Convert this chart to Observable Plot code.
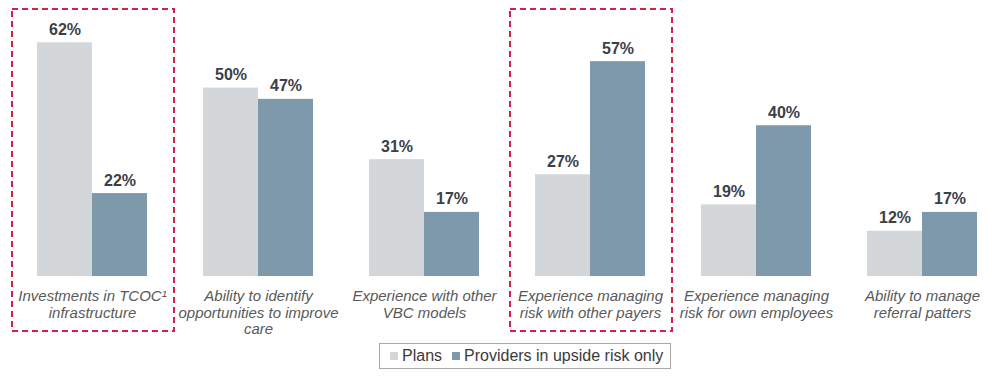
<!DOCTYPE html>
<html>
<head>
<meta charset="utf-8">
<script src="https://cdn.jsdelivr.net/npm/d3@7"></script>
<script src="https://cdn.jsdelivr.net/npm/@observablehq/plot@0.6"></script>
<style>
  body { margin: 0; background: #fff; font-family: "Liberation Sans", Arial, sans-serif; }
  #wrap { position: relative; width: 990px; height: 392px; overflow: hidden; }
  #chart { position: absolute; left: 0; top: 0; width: 990px; height: 340px; overflow: hidden; }
  #chart svg { max-width: none !important; }
  #legend { position: absolute; left: 379px; top: 343px; width: 290px; height: 24px; border: 1px solid #a9a9a9;
            display: flex; align-items: center; font-size: 16px; color: #3a3a3a; box-sizing: content-box; }
  .sw { display: inline-block; width: 8px; height: 8px; margin-right: 4px; }
</style>
</head>
<body>
<div id="wrap">
  <div id="chart"></div>
  <div id="legend"></div>
</div>
<script>
const categories = [
  "Investments in TCOC¹\ninfrastructure",
  "Ability to identify\nopportunities to improve\ncare",
  "Experience with other\nVBC models",
  "Experience managing\nrisk with other payers",
  "Experience managing\nrisk for own employees",
  "Ability to manage\nreferral patters"
];
const seriesNames = ["Plans", "Providers in upside risk only"];
const plans = [62, 50, 31, 27, 19, 12];
const providers = [22, 47, 17, 57, 40, 17];
const highlighted = ["Investments in TCOC¹\ninfrastructure", "Experience managing\nrisk with other payers"];
const colors = ["#d4d7d9", "#7e98ac"];

const rows = [];
categories.forEach((c, i) => {
  rows.push({cat: c, series: seriesNames[0], value: plans[i]});
  rows.push({cat: c, series: seriesNames[1], value: providers[i]});
});
const boxes = highlighted.map(c => ({cat: c}));
const catRows = categories.map(c => ({cat: c}));

const chart = Plot.plot({
  width: 1007,
  height: 340,
  marginLeft: 7,
  marginRight: 0,
  marginTop: 31,
  marginBottom: 64,
  style: {fontFamily: "'Liberation Sans', Arial, sans-serif", background: "transparent", maxWidth: "none"},
  fx: {domain: categories, paddingInner: 0.34, paddingOuter: 0.17, axis: null, label: null},
  x: {domain: seriesNames, padding: 0, axis: null, label: null},
  y: {domain: [0, 65], axis: null, label: null},
  color: {domain: seriesNames, range: colors},
  marks: [
    Plot.barY(rows, {fx: "cat", x: "series", y: "value", fill: "series"}),
    Plot.text(rows, {fx: "cat", x: "series", y: "value", text: d => d.value + "%",
      lineAnchor: "bottom", dy: -8, fontSize: 16, fontWeight: "bold", fill: "#3b4049"}),
    Plot.text(catRows, {fx: "cat", text: "cat", frameAnchor: "bottom", lineAnchor: "top",
      dy: 13, fontSize: 15, fontStyle: "italic", fill: "#595959", lineHeight: 1.1}),
    Plot.barY(boxes, {fx: "cat", y1: 0, y2: 65, fill: "none", stroke: "#d81e4a",
      strokeWidth: 2, strokeDasharray: "6,4", insetLeft: -25, insetRight: -27,
      insetTop: -22, insetBottom: -55})
  ]
});
chart.style.maxWidth = "none";
document.getElementById("chart").appendChild(chart);

const legend = document.getElementById("legend");
seriesNames.forEach((s, i) => {
  const item = document.createElement("span");
  item.style.display = "inline-flex";
  item.style.alignItems = "center";
  item.style.marginLeft = "10px";
  const sw = document.createElement("span");
  sw.className = "sw";
  sw.style.background = colors[i];
  item.appendChild(sw);
  item.appendChild(document.createTextNode(s));
  legend.appendChild(item);
});
</script>
</body>
</html>
